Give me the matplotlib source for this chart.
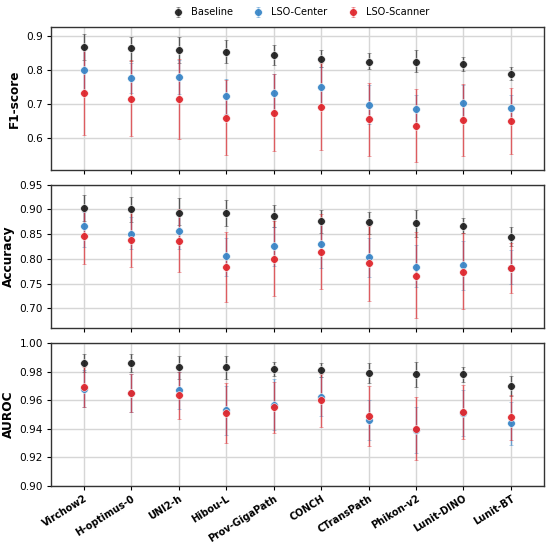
import numpy as np
import matplotlib
matplotlib.use("Agg")
import matplotlib.pyplot as plt

models = ["Virchow2", "H-optimus-0", "UNI2-h", "Hibou-L", "Prov-GigaPath",
          "CONCH", "CTransPath", "Phikon-v2", "Lunit-DINO", "Lunit-BT"]
settings = ["Baseline", "LSO-Center", "LSO-Scanner"]

# mean, lower, upper per setting
f1_mean = {
    "Baseline":    [0.869, 0.865, 0.859, 0.853, 0.844, 0.834, 0.825, 0.824, 0.818, 0.789],
    "LSO-Center":  [0.800, 0.776, 0.780, 0.723, 0.731, 0.749, 0.698, 0.684, 0.704, 0.689],
    "LSO-Scanner": [0.733, 0.716, 0.714, 0.659, 0.674, 0.691, 0.655, 0.634, 0.652, 0.649],
}
f1_low = {
    "Baseline":    [0.831, 0.828, 0.822, 0.820, 0.815, 0.810, 0.803, 0.793, 0.797, 0.770],
    "LSO-Center":  [0.733, 0.733, 0.728, 0.670, 0.676, 0.688, 0.641, 0.643, 0.651, 0.652],
    "LSO-Scanner": [0.608, 0.605, 0.597, 0.549, 0.561, 0.563, 0.547, 0.528, 0.545, 0.553],
}
f1_high = {
    "Baseline":    [0.906, 0.899, 0.899, 0.889, 0.873, 0.860, 0.849, 0.858, 0.839, 0.809],
    "LSO-Center":  [0.865, 0.822, 0.830, 0.775, 0.787, 0.810, 0.755, 0.726, 0.757, 0.726],
    "LSO-Scanner": [0.860, 0.830, 0.833, 0.772, 0.788, 0.820, 0.763, 0.743, 0.759, 0.746],
}

acc_mean = {
    "Baseline":    [0.903, 0.900, 0.893, 0.893, 0.886, 0.876, 0.874, 0.872, 0.866, 0.844],
    "LSO-Center":  [0.866, 0.851, 0.857, 0.805, 0.826, 0.830, 0.803, 0.784, 0.787, 0.782],
    "LSO-Scanner": [0.847, 0.839, 0.837, 0.784, 0.800, 0.814, 0.791, 0.766, 0.774, 0.782],
}
acc_low = {
    "Baseline":    [0.877, 0.875, 0.869, 0.867, 0.864, 0.853, 0.851, 0.845, 0.853, 0.825],
    "LSO-Center":  [0.823, 0.819, 0.820, 0.766, 0.785, 0.782, 0.763, 0.742, 0.737, 0.749],
    "LSO-Scanner": [0.790, 0.784, 0.774, 0.712, 0.724, 0.739, 0.715, 0.680, 0.698, 0.731],
}
acc_high = {
    "Baseline":    [0.930, 0.926, 0.924, 0.920, 0.909, 0.899, 0.895, 0.899, 0.883, 0.864],
    "LSO-Center":  [0.895, 0.884, 0.890, 0.843, 0.865, 0.872, 0.843, 0.828, 0.837, 0.818],
    "LSO-Scanner": [0.900, 0.895, 0.900, 0.855, 0.876, 0.890, 0.867, 0.854, 0.853, 0.833],
}

auc_mean = {
    "Baseline":    [0.986, 0.986, 0.983, 0.983, 0.982, 0.981, 0.979, 0.978, 0.978, 0.970],
    "LSO-Center":  [0.968, 0.965, 0.967, 0.953, 0.957, 0.962, 0.946, 0.939, 0.951, 0.944],
    "LSO-Scanner": [0.969, 0.965, 0.964, 0.951, 0.955, 0.960, 0.949, 0.940, 0.952, 0.948],
}
auc_low = {
    "Baseline":    [0.980, 0.980, 0.975, 0.975, 0.977, 0.976, 0.972, 0.969, 0.973, 0.963],
    "LSO-Center":  [0.955, 0.952, 0.954, 0.936, 0.939, 0.949, 0.932, 0.923, 0.935, 0.929],
    "LSO-Scanner": [0.955, 0.952, 0.947, 0.930, 0.937, 0.941, 0.928, 0.918, 0.933, 0.932],
}
auc_high = {
    "Baseline":    [0.992, 0.992, 0.991, 0.991, 0.987, 0.986, 0.986, 0.987, 0.983, 0.977],
    "LSO-Center":  [0.981, 0.978, 0.980, 0.970, 0.975, 0.976, 0.960, 0.955, 0.967, 0.959],
    "LSO-Scanner": [0.983, 0.978, 0.980, 0.972, 0.973, 0.978, 0.970, 0.962, 0.971, 0.964],
}

colors = {"Baseline": "#222222", "LSO-Center": "#3a87c8", "LSO-Scanner": "#e0282e"}

panels = [
    ("F1-score", f1_mean, f1_low, f1_high, (0.505, 0.927), [0.6, 0.7, 0.8, 0.9], "{:.1f}"),
    ("Accuracy", acc_mean, acc_low, acc_high, (0.66, 0.95),
     [0.70, 0.75, 0.80, 0.85, 0.90, 0.95], "{:.2f}"),
    ("AUROC", auc_mean, auc_low, auc_high, (0.90, 1.00),
     [0.90, 0.92, 0.94, 0.96, 0.98, 1.00], "{:.2f}"),
]

fig = plt.figure(figsize=(5.5, 5.54), dpi=100)
boxes = [[0.0922, 0.6931, 0.8970, 0.2581],
         [0.0922, 0.4079, 0.8970, 0.2587],
         [0.0922, 0.1227, 0.8970, 0.2581]]

x = np.arange(len(models))
handles = []
for i, (name, mean, low, high, ylim, ticks, fmt) in enumerate(panels):
    ax = fig.add_axes(boxes[i])
    ax.set_axisbelow(True)
    ax.grid(True, color="#d6d6d6", linewidth=1.0)
    for s in settings:
        m = np.array(mean[s])
        err = np.vstack([m - np.array(low[s]), np.array(high[s]) - m])
        h = ax.errorbar(x, m, yerr=err, fmt="o", color=colors[s], ecolor=colors[s],
                        markersize=5.5, elinewidth=1.0, capsize=1.6, capthick=0.9,
                        markeredgewidth=0.4, markeredgecolor="white",
                        label=s, zorder=3)
        data_line, caplines, barcols = h.lines
        data_line.set_alpha(0.95)
        for c in caplines:
            c.set_alpha(0.7)
        for b in barcols:
            b.set_alpha(0.7)
        if i == 0:
            handles.append(h)
    ax.set_xlim(-0.70, 9.70)
    ax.set_ylim(*ylim)
    ax.set_yticks(ticks)
    ax.set_yticklabels([fmt.format(t) for t in ticks], fontsize=7.6)
    ax.tick_params(axis="both", length=3, width=0.8, pad=2.5)
    ax.set_ylabel(name, fontsize=8.7, fontweight="bold", labelpad=3.5)
    ax.set_xticks(x)
    if i == 2:
        ax.set_xticklabels(models, rotation=32, ha="right", rotation_mode="anchor",
                           fontsize=7, fontweight="bold")
    else:
        ax.set_xticklabels([])
    for sp in ax.spines.values():
        sp.set_color("#333333")
        sp.set_linewidth(1.0)

fig.legend(handles=handles, labels=settings, loc="upper center",
           bbox_to_anchor=(0.543, 1.003), ncol=3, frameon=False, fontsize=7.1,
           handletextpad=0.3, columnspacing=1.6)

fig.savefig("out.png", dpi=100)
